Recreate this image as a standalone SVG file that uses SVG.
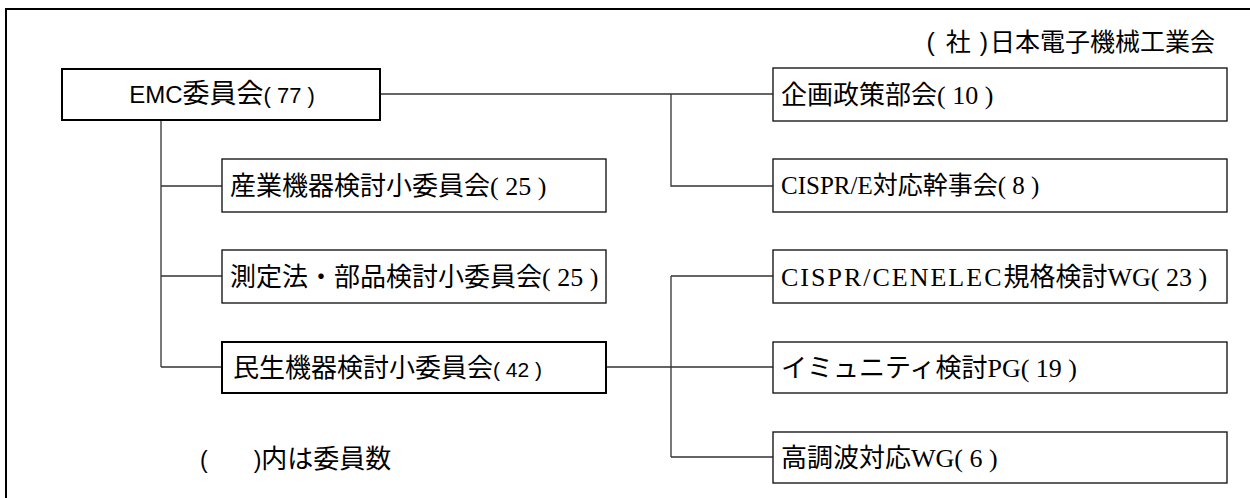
<svg xmlns="http://www.w3.org/2000/svg" width="1250" height="498" viewBox="0 0 1250 498">
<style>
.frame{fill:none;stroke:#000;stroke-width:2}
.box{fill:#fff;stroke:#1a1a1a;stroke-width:1.4}
.boxb{fill:#fff;stroke:#000;stroke-width:2}
.ln{fill:none;stroke:#333;stroke-width:1.3}
text{font-family:"Noto Sans CJK JP","Liberation Sans",sans-serif;font-size:26px;fill:#000}
.s{font-family:"Liberation Sans",sans-serif;font-size:23px}
.p{font-family:"Liberation Sans",sans-serif;font-size:22px}
.r{font-family:"Liberation Serif",serif;font-size:26px}
</style>
<rect class="frame" x="6" y="9" width="1260" height="500"/>
<text id="header" x="1215" y="51" text-anchor="end" style="font-size:25px"><tspan class="s" style="font-size:25px;letter-spacing:2px">( </tspan>社<tspan class="s" style="font-size:25px;letter-spacing:2px"> )</tspan>日本電子機械工業会</text>
<g id="connectors">
<path class="ln" d="M380 94H773M671 94V186H773"/>
<path class="ln" d="M161 120V367M161 186H222M161 276H222M161 367H222"/>
<path class="ln" d="M606 367H773M671 276V457M671 276H773M671 457H773"/>
</g>
<g id="emc">
<rect class="boxb" x="62" y="69" width="318" height="51"/>
<text x="222" y="103" text-anchor="middle" style="font-size:27px"><tspan class="s" style="font-size:24px">EMC</tspan>委員会<tspan class="p">( 77 )</tspan></text>
</g>
<g id="kikaku">
<rect class="box" x="773" y="68" width="454" height="53"/>
<text x="781" y="104">企画政策部会<tspan class="r">( 10 )</tspan></text>
</g>
<g id="cispr-e">
<rect class="box" x="773" y="159" width="454" height="53"/>
<text x="781" y="194" style="font-size:25px"><tspan class="r" style="font-size:25px">CISPR/E</tspan>対応幹事会<tspan class="r" style="font-size:25px">( 8 )</tspan></text>
</g>
<g id="sangyo">
<rect class="box" x="222" y="159" width="384" height="53"/>
<text x="230" y="195">産業機器検討小委員会<tspan class="r">( 25 )</tspan></text>
</g>
<g id="sokutei">
<rect class="box" x="222" y="250" width="384" height="53"/>
<text x="230" y="286">測定法・部品検討小委員会<tspan class="r">( 25 )</tspan></text>
</g>
<g id="cenelec">
<rect class="box" x="773" y="250" width="454" height="53"/>
<text x="781" y="286"><tspan class="r" style="letter-spacing:2px">CISPR/CENELEC</tspan>規格検討<tspan class="r">WG( 23 )</tspan></text>
</g>
<g id="minsei">
<rect class="boxb" x="222" y="342" width="384" height="51"/>
<text x="233" y="377">民生機器検討小委員会<tspan class="p" style="font-size:21px">( 42 )</tspan></text>
</g>
<g id="immunity">
<rect class="box" x="773" y="342" width="454" height="51"/>
<text x="781" y="377">イミュニティ検討<tspan class="r">PG( 19 )</tspan></text>
</g>
<g id="harmonic">
<rect class="box" x="773" y="432" width="454" height="51"/>
<text x="781" y="467">高調波対応<tspan class="r">WG( 6 )</tspan></text>
</g>
<text id="note" x="200" y="468"><tspan class="s">(　　)</tspan>内は委員数</text>
</svg>
